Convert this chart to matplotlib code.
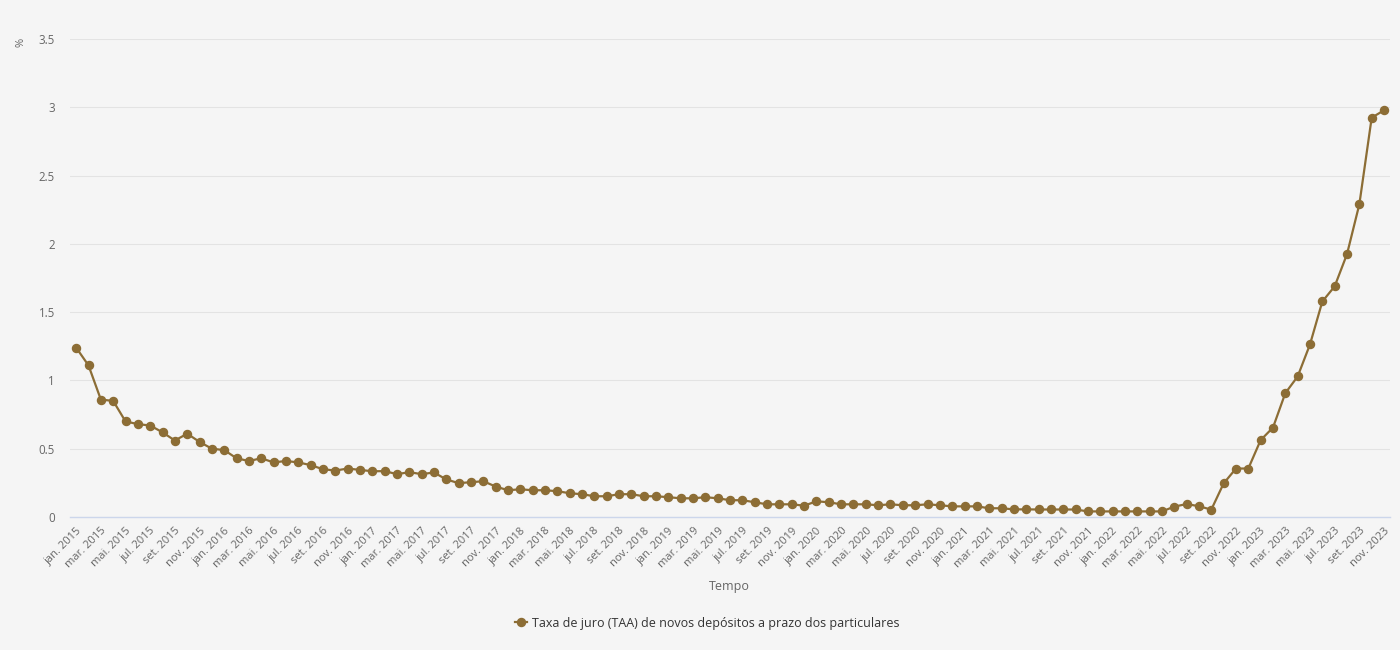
import matplotlib
matplotlib.use("Agg")
import matplotlib.pyplot as plt

plt.rcParams['font.family'] = ['Open Sans', 'DejaVu Sans']

month_abbr = ["jan.", "fev.", "mar.", "abr.", "mai.", "jun.",
              "jul.", "ago.", "set.", "out.", "nov.", "dez."]
years = list(range(2015, 2024))
categories = [f"{m} {y}" for y in years for m in month_abbr][:107]

values_2015 = [1.24, 1.11, 0.86, 0.85, 0.70, 0.68, 0.67, 0.62, 0.56, 0.61, 0.55, 0.50]
values_2016 = [0.49, 0.43, 0.41, 0.43, 0.40, 0.41, 0.40, 0.38, 0.35, 0.34, 0.355, 0.345]
values_2017 = [0.335, 0.336, 0.314, 0.328, 0.314, 0.326, 0.275, 0.248, 0.255, 0.262, 0.223, 0.196]
values_2018 = [0.203, 0.196, 0.196, 0.189, 0.174, 0.167, 0.152, 0.152, 0.167, 0.167, 0.152, 0.152]
values_2019 = [0.145, 0.137, 0.137, 0.145, 0.137, 0.123, 0.123, 0.108, 0.093, 0.093, 0.093, 0.083]
values_2020 = [0.115, 0.108, 0.093, 0.093, 0.093, 0.086, 0.093, 0.086, 0.086, 0.093, 0.086, 0.078]
values_2021 = [0.078, 0.078, 0.064, 0.064, 0.056, 0.056, 0.055, 0.055, 0.055, 0.055, 0.041, 0.041]
values_2022 = [0.041, 0.041, 0.041, 0.041, 0.041, 0.076, 0.095, 0.079, 0.054, 0.246, 0.355, 0.355]
values_2023 = [0.563, 0.655, 0.907, 1.029, 1.264, 1.578, 1.689, 1.925, 2.290, 2.924, 2.978]

values = (values_2015 + values_2016 + values_2017 + values_2018 + values_2019
          + values_2020 + values_2021 + values_2022 + values_2023)

yticks = [0, 0.5, 1, 1.5, 2, 2.5, 3, 3.5]
ytick_labels = ["0", "0.5", "1", "1.5", "2", "2.5", "3", "3.5"]
series_name = "Taxa de juro (TAA) de novos depósitos a prazo dos particulares"

bg = "#f5f5f5"
line_color = "#8c6d35"
text_color = "#666666"

fig = plt.figure(figsize=(14, 6.5), dpi=100, facecolor=bg)
ax = fig.add_axes([0.05, 0.2046, 0.943, 0.7354], facecolor=bg)

x = list(range(len(values)))
ax.plot(x, values, color=line_color, linewidth=1.6, marker="o",
        markersize=5.8, label=series_name, zorder=3)

ax.set_xlim(-0.5, len(values) - 0.5)
ax.set_ylim(0, 3.5)
ax.set_yticks(yticks)
ax.set_yticklabels(ytick_labels, color=text_color, fontsize=8.3)
ax.grid(axis="y", color="#e3e3e3", linewidth=0.8)
ax.set_axisbelow(True)

tick_pos = x[::2]
ax.set_xticks(tick_pos)
ax.set_xticklabels([categories[i] for i in tick_pos], rotation=45,
                   ha="right", rotation_mode="anchor", color=text_color,
                   fontsize=8)
ax.tick_params(axis="x", length=0, pad=6)
ax.tick_params(axis="y", length=0, pad=11)

for s in ["top", "right", "left"]:
    ax.spines[s].set_visible(False)
ax.spines["bottom"].set_color("#ccd6eb")
ax.spines["bottom"].set_linewidth(1)

fig.text(0.015, 0.935, "%", rotation=90, color=text_color,
         fontsize=8, ha="center", va="center")
fig.text(0.521, 0.097, "Tempo", color=text_color, fontsize=9,
         ha="center", va="center")

leg = fig.legend(loc="center", bbox_to_anchor=(0.505, 0.041), frameon=False,
                 fontsize=9, handlelength=1.0, handletextpad=0.4)
for t in leg.get_texts():
    t.set_color("#333333")

fig.savefig("out.png", dpi=100, facecolor=bg)
